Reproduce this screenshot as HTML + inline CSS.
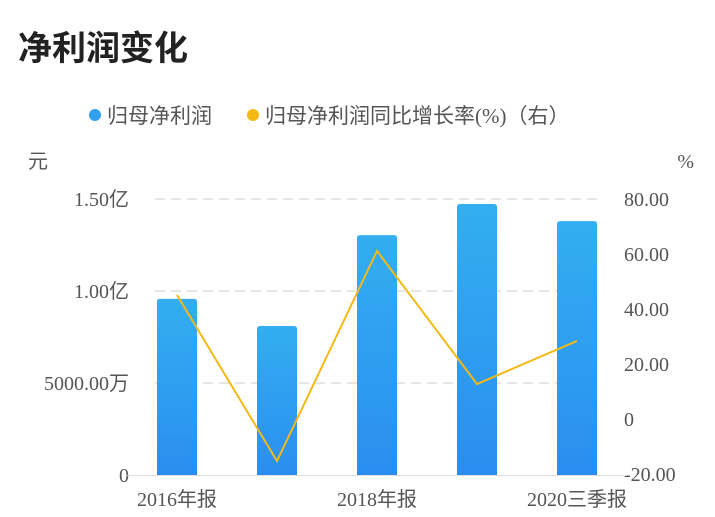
<!DOCTYPE html>
<html><head><meta charset="utf-8"><style>
body{margin:0;background:#fff;font-family:"Liberation Serif","Noto Sans CJK SC",serif;}
#wrap{position:relative;width:715px;height:517px;overflow:hidden;}
</style></head><body>
<div id="wrap">
<svg id="chart" width="715" height="517">
<defs><linearGradient id="bg" x1="0" y1="0" x2="0" y2="1"><stop offset="0" stop-color="#33aef0"/><stop offset="1" stop-color="#2a8ef0"/></linearGradient></defs>
<text x="18" y="60" font-size="34" font-weight="bold" fill="#222" font-family="Liberation Sans,Noto Sans CJK SC,sans-serif">净利润变化</text>
<g><circle cx="95" cy="115" r="6" fill="#2f9ff0"/><text x="107" y="123" font-size="21" fill="#555" font-family="Liberation Sans,Noto Sans CJK SC,sans-serif">归母净利润</text></g>
<g><circle cx="253" cy="115" r="6" fill="#f5b914"/><text x="265" y="123" font-size="21" fill="#555" font-family="Liberation Serif,Noto Sans CJK SC,serif">归母净利润同比增长率(%)（右）</text></g>
<text x="28" y="168" font-size="20" fill="#555">元</text>
<text x="694" y="168" font-size="20" fill="#555" text-anchor="end">%</text>
<g id="grid"></g><g id="bars"></g><g id="line"></g><g id="axes"></g>
</svg>
</div>
<script>
const categories=["2016年报","2017年报","2018年报","2019年报","2020三季报"];
const profit=[0.957,0.81,1.304,1.473,1.38];
const growth=[45.1,-15.3,61.1,12.7,28.4];
const leftTicks=[0,0.5,1.0,1.5];
const leftLabels=["0","5000.00万","1.00亿","1.50亿"];
const rightTicks=[-20,0,20,40,60,80];
const rightLabels=["-20.00","0","20.00","40.00","60.00","80.00"];
const NS="http://www.w3.org/2000/svg";
const x0=127,x1=627,band=(x1-x0)/categories.length;
const xC=i=>x0+band*(i+0.5);
const yL=v=>475-v/1.5*276;
const yR=v=>474-(v+20)/100*275;
function mk(t,a,p){const e=document.createElementNS(NS,t);for(const k in a)e.setAttribute(k,a[k]);p.appendChild(e);return e;}
const grid=document.getElementById('grid'),bars=document.getElementById('bars'),line=document.getElementById('line'),axes=document.getElementById('axes');
leftTicks.forEach((v,i)=>{
 if(v>0){const g=mk('line',{x1:155,x2:600,y1:yL(v),y2:yL(v),stroke:'#e6e6e6','stroke-width':2,'stroke-dasharray':'10,6'},grid);
 
 }
 const t=mk('text',{x:129,y:yL(v)+7,'font-size':20,fill:'#555','text-anchor':'end'},axes);t.textContent=leftLabels[i];
 
 
});
rightTicks.forEach((v,i)=>{const t=mk('text',{x:624,y:yR(v)+7,'font-size':20,fill:'#555'},axes);t.textContent=rightLabels[i];
 
 });
const ax=mk('line',{x1:127,x2:627,y1:475.5,y2:475.5,stroke:'#ddd','stroke-width':1},axes);


categories.forEach((c,i)=>{
 const y=yL(profit[i]),h=475-y;
 const b=mk('path',{d:`M${xC(i)-20},475V${y+3}q0,-3 3,-3h34q3,0 3,3V475Z`,fill:'url(#bg)'},bars);
 
 
 if(i%2===0){const t=mk('text',{x:xC(i),y:506,'font-size':20,fill:'#555','text-anchor':'middle'},axes);t.textContent=c;
 
 }
});
const pl=mk('polyline',{points:growth.map((v,i)=>xC(i)+','+yR(v)).join(' '),fill:'none',stroke:'#f5b914','stroke-width':2},line);


</script>
</body></html>
